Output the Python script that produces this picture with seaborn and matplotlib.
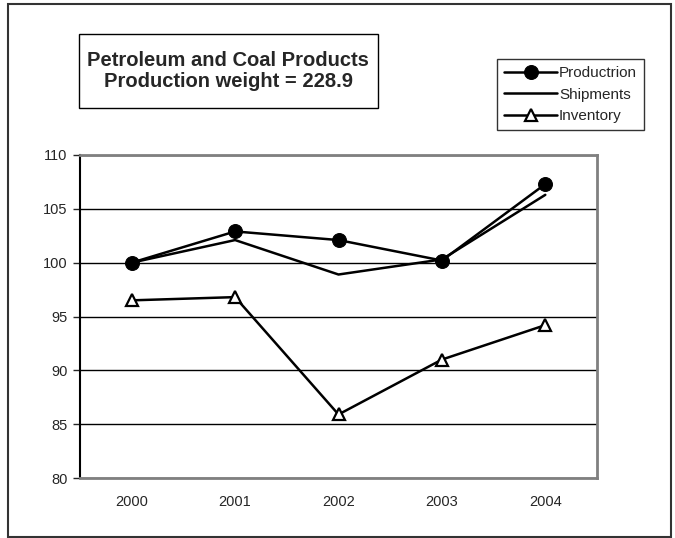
import numpy as np
import matplotlib
matplotlib.use("Agg")
import matplotlib.pyplot as plt
from matplotlib.patches import Rectangle
import seaborn as sns

# data
years = ["2000", "2001", "2002", "2003", "2004"]
production = [100.0, 102.9, 102.1, 100.2, 107.3]
shipments = [100.0, 102.1, 98.9, 100.3, 106.3]
inventory = [96.5, 96.8, 85.9, 91.0, 94.2]

sns.set_style("white")
plt.rcParams['font.family'] = ['Liberation Sans', 'DejaVu Sans']

W, H = 675, 538
fig = plt.figure(figsize=(W / 100, H / 100), dpi=100)

# plot area
ax = fig.add_axes([80 / W, 1 - 478 / H, 517 / W, 323 / H])
x = np.arange(len(years))

sns.lineplot(x=x, y=production, ax=ax, color="black", lw=1.8, marker="o",
             markersize=10, markeredgecolor="black", label="Productrion")
sns.lineplot(x=x, y=shipments, ax=ax, color="black", lw=1.8, label="Shipments")
sns.lineplot(x=x, y=inventory, ax=ax, color="black", lw=1.8, marker="^",
             markersize=8, markerfacecolor="white", markeredgecolor="black",
             markeredgewidth=1.6, label="Inventory")

ax.set_xlim(-0.5, len(years) - 0.5)
ax.set_ylim(80, 110)
ax.set_yticks(range(80, 111, 5))
ax.set_xticks(x)
ax.set_xticklabels(years)
ax.tick_params(axis="x", length=0, pad=12, labelsize=10.5)
ax.tick_params(axis="y", length=5, width=1, direction="out", pad=4, labelsize=10.5, left=True)
ax.yaxis.grid(True, color="black", lw=1)
ax.set_axisbelow(True)
for s in ["top", "right", "bottom"]:
    ax.spines[s].set_color("#808080")
    ax.spines[s].set_linewidth(2)
ax.spines["left"].set_color("black")
ax.spines["left"].set_linewidth(1.5)
ax.set_xlabel("")
ax.set_ylabel("")

# legend
h, l = ax.get_legend_handles_labels()
ax.get_legend().remove()
leg = fig.legend(h, l, loc="upper left", bbox_to_anchor=(497 / W, 1 - 59 / H),
                 frameon=True, fancybox=False, edgecolor="black", fontsize=11,
                 handlelength=3.5, handletextpad=0.1, labelspacing=0.5,
                 borderpad=0.45, borderaxespad=0)
leg.get_frame().set_linewidth(1)

# title box
fig.patches.append(Rectangle((79 / W, 1 - 108 / H), 299 / W, 74 / H,
                             transform=fig.transFigure, fill=False,
                             edgecolor="black", lw=1))
fig.text(228 / W, 1 - 71 / H, "Petroleum and Coal Products\nProduction weight = 228.9",
         ha="center", va="center", fontsize=14.5, fontweight="bold", linespacing=1.1)

# outer border
fig.patches.append(Rectangle((8 / W, 1 - 537 / H), 663 / W, 533 / H,
                             transform=fig.transFigure, fill=False,
                             edgecolor="#333333", lw=1.5))

fig.savefig("out.png", dpi=100)
